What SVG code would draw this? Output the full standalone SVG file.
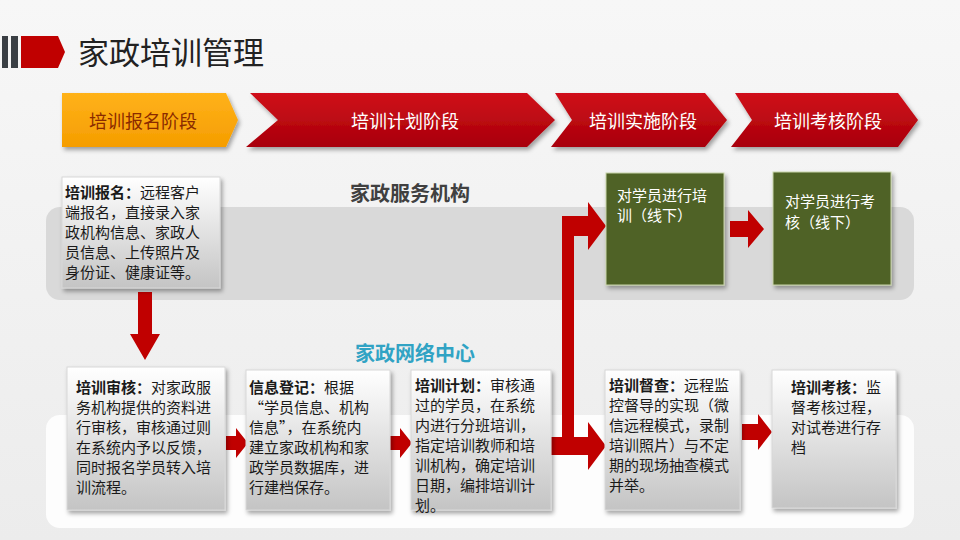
<svg xmlns="http://www.w3.org/2000/svg" width="960" height="540" viewBox="0 0 960 540">
<defs>
<linearGradient id="bg" x1="0" y1="0" x2="0" y2="1"><stop offset="0" stop-color="#f7f7f7"/><stop offset="1" stop-color="#ececec"/></linearGradient>
<linearGradient id="box" x1="0" y1="0" x2="0" y2="1"><stop offset="0" stop-color="#ffffff"/><stop offset="1" stop-color="#c4c4c4"/></linearGradient>
<linearGradient id="red" x1="0" y1="0" x2="0" y2="1"><stop offset="0" stop-color="#d0101a"/><stop offset="1" stop-color="#a8000a"/></linearGradient>
<linearGradient id="org" x1="0" y1="0" x2="0" y2="1"><stop offset="0" stop-color="#ffb21a"/><stop offset="1" stop-color="#f59d00"/></linearGradient>
<filter id="sh" x="-10%" y="-10%" width="130%" height="130%"><feDropShadow dx="2" dy="3" stdDeviation="2" flood-opacity="0.35"/></filter>
<style>
.t{font-family:"Noto Sans CJK SC","Liberation Sans",sans-serif;font-size:15px;fill:#1a1a1a}
.b{font-weight:bold}
.ph{font-family:"Noto Sans CJK SC",sans-serif;font-size:18px;fill:#fff;text-anchor:middle}
.bx{fill:url(#box);stroke:#d8d8d8;stroke-width:1;filter:url(#sh)}
.gr{fill:#4f6228;stroke:#c8d3a8;stroke-width:1;filter:url(#sh)}
.ar{fill:#c00000}
.gt{font-family:"Noto Sans CJK SC",sans-serif;font-size:15px;fill:#fff}
</style>
</defs>
<rect width="960" height="540" fill="url(#bg)"/>
<g id="title">
<rect x="2" y="36" width="6" height="32" fill="#3a3f44"/>
<rect x="11" y="36" width="7" height="32" fill="#3a3f44"/>
<path d="M21,36 H58 L65,52 L58,68 H21 Z" fill="#c00000"/>
<text x="78" y="64" font-family="Noto Sans CJK SC,sans-serif" font-size="31" fill="#222">家政培训管理</text>
</g>
<g id="phases">
<path d="M62,93 H226 L238,120 L226,147 H62 Z" fill="url(#org)" filter="url(#sh)"/>
<text x="143" y="128" class="ph" style="fill:#8a2a00">培训报名阶段</text>
<path d="M250,93 H527 L555,120 L527,147 H246 L278,120 Z" fill="url(#red)" filter="url(#sh)"/>
<text x="405" y="128" class="ph">培训计划阶段</text>
<path d="M555,93 H705 L727,120 L705,147 H551 L572,120 Z" fill="url(#red)" filter="url(#sh)"/>
<text x="643" y="128" class="ph">培训实施阶段</text>
<path d="M735,93 H898 L918,120 L898,147 H731 L752,120 Z" fill="url(#red)" filter="url(#sh)"/>
<text x="828" y="128" class="ph">培训考核阶段</text>
</g>
<g id="bands">
<rect x="46" y="207" width="868" height="93" rx="14" fill="#d9d9d9"/>
<rect x="46" y="415" width="868" height="113" rx="14" fill="#fdfdfd"/>
<text x="410" y="201" text-anchor="middle" font-family="Noto Sans CJK SC,sans-serif" font-size="20" font-weight="bold" fill="#404040">家政服务机构</text>
<text x="415" y="361" text-anchor="middle" font-family="Noto Sans CJK SC,sans-serif" font-size="20" font-weight="bold" fill="#31a3c4">家政网络中心</text>
</g>
<g id="connectors">
<path class="ar" d="M138,292 H152 V334 H160 L145,360 L130,334 H138 Z"/>
<path class="ar" d="M226,436 H236 V428 L248,443 L236,458 V450 H226 Z"/>
<path class="ar" d="M390,436 H400 V428 L412,443 L400,458 V450 H390 Z"/>
<path class="ar" d="M550,437 H562 V216 H588 V202 L606,226 L588,250 V236 H574 V437 H588 V422 L606,446 L588,470 V455 H550 Z"/>
<path class="ar" d="M742,424 H758 V414 L772,432 L758,450 V440 H742 Z"/>
<path class="ar" d="M730,221 H748 V210 L764,229 L748,248 V237 H730 Z"/>
</g>
<g id="n1">
<rect class="bx" x="62" y="177" width="158" height="111"/>
<text class="t"><tspan x="65" y="198"><tspan class="b">培训报名：</tspan>远程客户</tspan><tspan x="65" y="218">端报名，直接录入家</tspan><tspan x="65" y="238">政机构信息、家政人</tspan><tspan x="65" y="258">员信息、上传照片及</tspan><tspan x="65" y="278">身份证、健康证等。</tspan></text>
</g>
<g id="n2">
<rect class="bx" x="67" y="367" width="158" height="143"/>
<text class="t"><tspan x="76" y="393"><tspan class="b">培训审核：</tspan>对家政服</tspan><tspan x="76" y="413">务机构提供的资料进</tspan><tspan x="76" y="433">行审核，审核通过则</tspan><tspan x="76" y="453">在系统内予以反馈，</tspan><tspan x="76" y="473">同时报名学员转入培</tspan><tspan x="76" y="493">训流程。</tspan></text>
</g>
<g id="n3">
<rect class="bx" x="246" y="370" width="144" height="140"/>
<text class="t"><tspan x="249" y="393"><tspan class="b">信息登记：</tspan>根据</tspan><tspan x="249" y="413">“学员信息、机构</tspan><tspan x="249" y="433">信息”，在系统内</tspan><tspan x="249" y="453">建立家政机构和家</tspan><tspan x="249" y="473">政学员数据库，进</tspan><tspan x="249" y="493">行建档保存。</tspan></text>
</g>
<g id="n4">
<rect class="bx" x="411" y="370" width="140" height="140"/>
<text class="t"><tspan x="415" y="391"><tspan class="b">培训计划：</tspan>审核通</tspan><tspan x="415" y="411">过的学员，在系统</tspan><tspan x="415" y="431">内进行分班培训，</tspan><tspan x="415" y="451">指定培训教师和培</tspan><tspan x="415" y="471">训机构，确定培训</tspan><tspan x="415" y="491">日期，编排培训计</tspan><tspan x="415" y="511">划。</tspan></text>
</g>
<g id="n5">
<rect class="bx" x="605" y="370" width="135" height="140"/>
<text class="t"><tspan x="609" y="391"><tspan class="b">培训督查：</tspan>远程监</tspan><tspan x="609" y="411">控督导的实现（微</tspan><tspan x="609" y="431">信远程模式，录制</tspan><tspan x="609" y="451">培训照片）与不定</tspan><tspan x="609" y="471">期的现场抽查模式</tspan><tspan x="609" y="491">并举。</tspan></text>
</g>
<g id="n6">
<rect class="bx" x="772" y="370" width="124" height="138"/>
<text class="t"><tspan x="791" y="393"><tspan class="b">培训考核：</tspan>监</tspan><tspan x="791" y="413">督考核过程，</tspan><tspan x="791" y="433">对试卷进行存</tspan><tspan x="791" y="453">档</tspan></text>
</g>
<g id="g1">
<rect class="gr" x="606" y="173" width="118" height="112"/>
<text class="gt"><tspan x="617" y="201">对学员进行培</tspan><tspan x="617" y="221">训（线下）</tspan></text>
</g>
<g id="g2">
<rect class="gr" x="773" y="172" width="118" height="113"/>
<text class="gt"><tspan x="785" y="207">对学员进行考</tspan><tspan x="785" y="228">核（线下）</tspan></text>
</g>
</svg>
